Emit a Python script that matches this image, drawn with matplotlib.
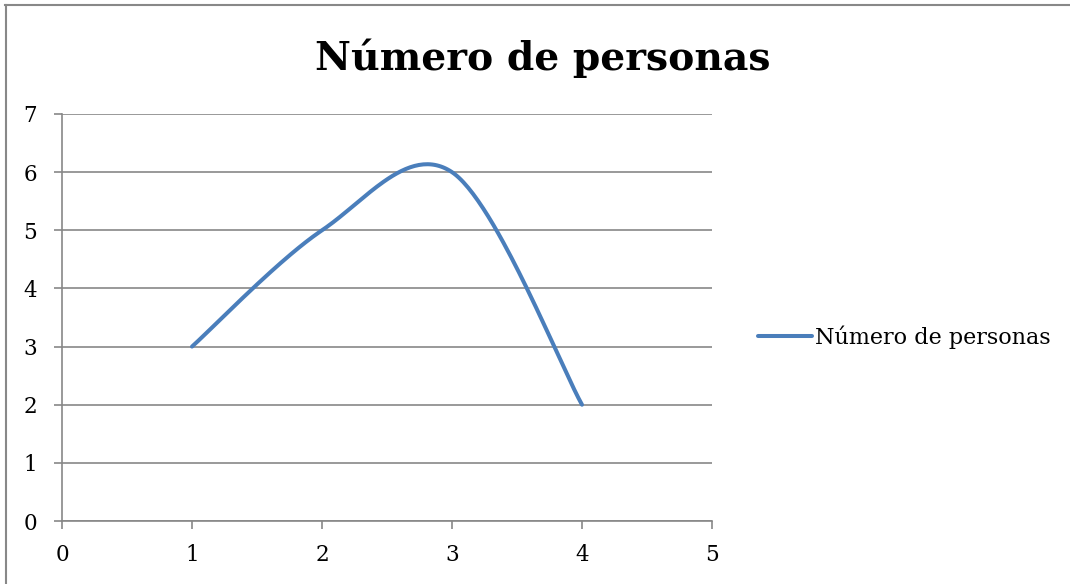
import numpy as np
import matplotlib
matplotlib.use("Agg")
import matplotlib.pyplot as plt
from matplotlib.lines import Line2D

# Data
x_vals = [1, 2, 3, 4]
y_vals = [3, 5, 6, 2]
series_name = "Número de personas"
title_text = "Número de personas"
x_ticks = [0, 1, 2, 3, 4, 5]
y_ticks = [0, 1, 2, 3, 4, 5, 6, 7]

FONT = "DejaVu Serif"
LINE_COLOR = "#4A7EBB"
GRID_COLOR = "#878787"


def smooth_curve(xs, ys, steps=60):
    """Catmull-Rom style smoothing through the given points (Excel-like)."""
    pts = np.column_stack([xs, ys]).astype(float)
    padded = np.vstack([pts[0], pts, pts[-1]])
    out = []
    for i in range(1, len(padded) - 2):
        p0, p1, p2, p3 = padded[i - 1], padded[i], padded[i + 1], padded[i + 2]
        m1 = (p2 - p0) / 2.0
        m2 = (p3 - p1) / 2.0
        t = np.linspace(0, 1, steps)[:, None]
        h00 = 2 * t**3 - 3 * t**2 + 1
        h10 = t**3 - 2 * t**2 + t
        h01 = -2 * t**3 + 3 * t**2
        h11 = t**3 - t**2
        seg = h00 * p1 + h10 * m1 + h01 * p2 + h11 * m2
        out.append(seg if i == 1 else seg[1:])
    arr = np.vstack(out)
    return arr[:, 0], arr[:, 1]


fig = plt.figure(figsize=(10.70, 5.84), dpi=100)
ax = fig.add_axes([62 / 1070, 1 - 521 / 584, 650 / 1070, 407 / 584])

sx, sy = smooth_curve(x_vals, y_vals)
ax.plot(sx, sy, color=LINE_COLOR, lw=2.9, solid_capstyle="round",
        solid_joinstyle="round", zorder=3, clip_on=False)

ax.set_xlim(0, 5)
ax.set_ylim(0, 7)
ax.set_xticks(x_ticks)
ax.set_yticks(y_ticks)
ax.set_xticklabels([str(v) for v in x_ticks], fontfamily=FONT, fontsize=15.5)
ax.set_yticklabels([str(v) for v in y_ticks], fontfamily=FONT, fontsize=15.5)
ax.tick_params(axis="x", direction="out", length=5.8, width=1.2, color=GRID_COLOR, pad=11)
ax.tick_params(axis="y", direction="out", length=5.8, width=1.2, color=GRID_COLOR, pad=12)
ax.yaxis.grid(True, color=GRID_COLOR, lw=1.2)
ax.set_axisbelow(True)
for side in ["top", "right"]:
    ax.spines[side].set_visible(False)
for side in ["left", "bottom"]:
    ax.spines[side].set_color(GRID_COLOR)
    ax.spines[side].set_linewidth(1.2)

fig.text(543 / 1070, 1 - 58 / 584, title_text, ha="center", va="center",
         fontfamily=FONT, fontsize=28.3, fontweight="bold")

# Legend
legend_handle = Line2D([], [], color=LINE_COLOR, lw=2.9, solid_capstyle="round")
fig.legend([legend_handle], [series_name], loc="center left",
           bbox_to_anchor=(758 / 1070, 1 - 337 / 584), frameon=False,
           prop={"family": FONT, "size": 16}, handlelength=2.45,
           handletextpad=0.12, borderaxespad=0, borderpad=0)

# Outer chart frame (top and left edges visible)
fig.add_artist(Line2D([5 / 1070, 1.0], [1 - 4.5 / 584, 1 - 4.5 / 584],
                      transform=fig.transFigure, color="#888888", lw=1.5))
fig.add_artist(Line2D([5.5 / 1070, 5.5 / 1070], [0, 1 - 4.5 / 584],
                      transform=fig.transFigure, color="#888888", lw=1.5))

fig.savefig("out.png", dpi=100, facecolor="white")
